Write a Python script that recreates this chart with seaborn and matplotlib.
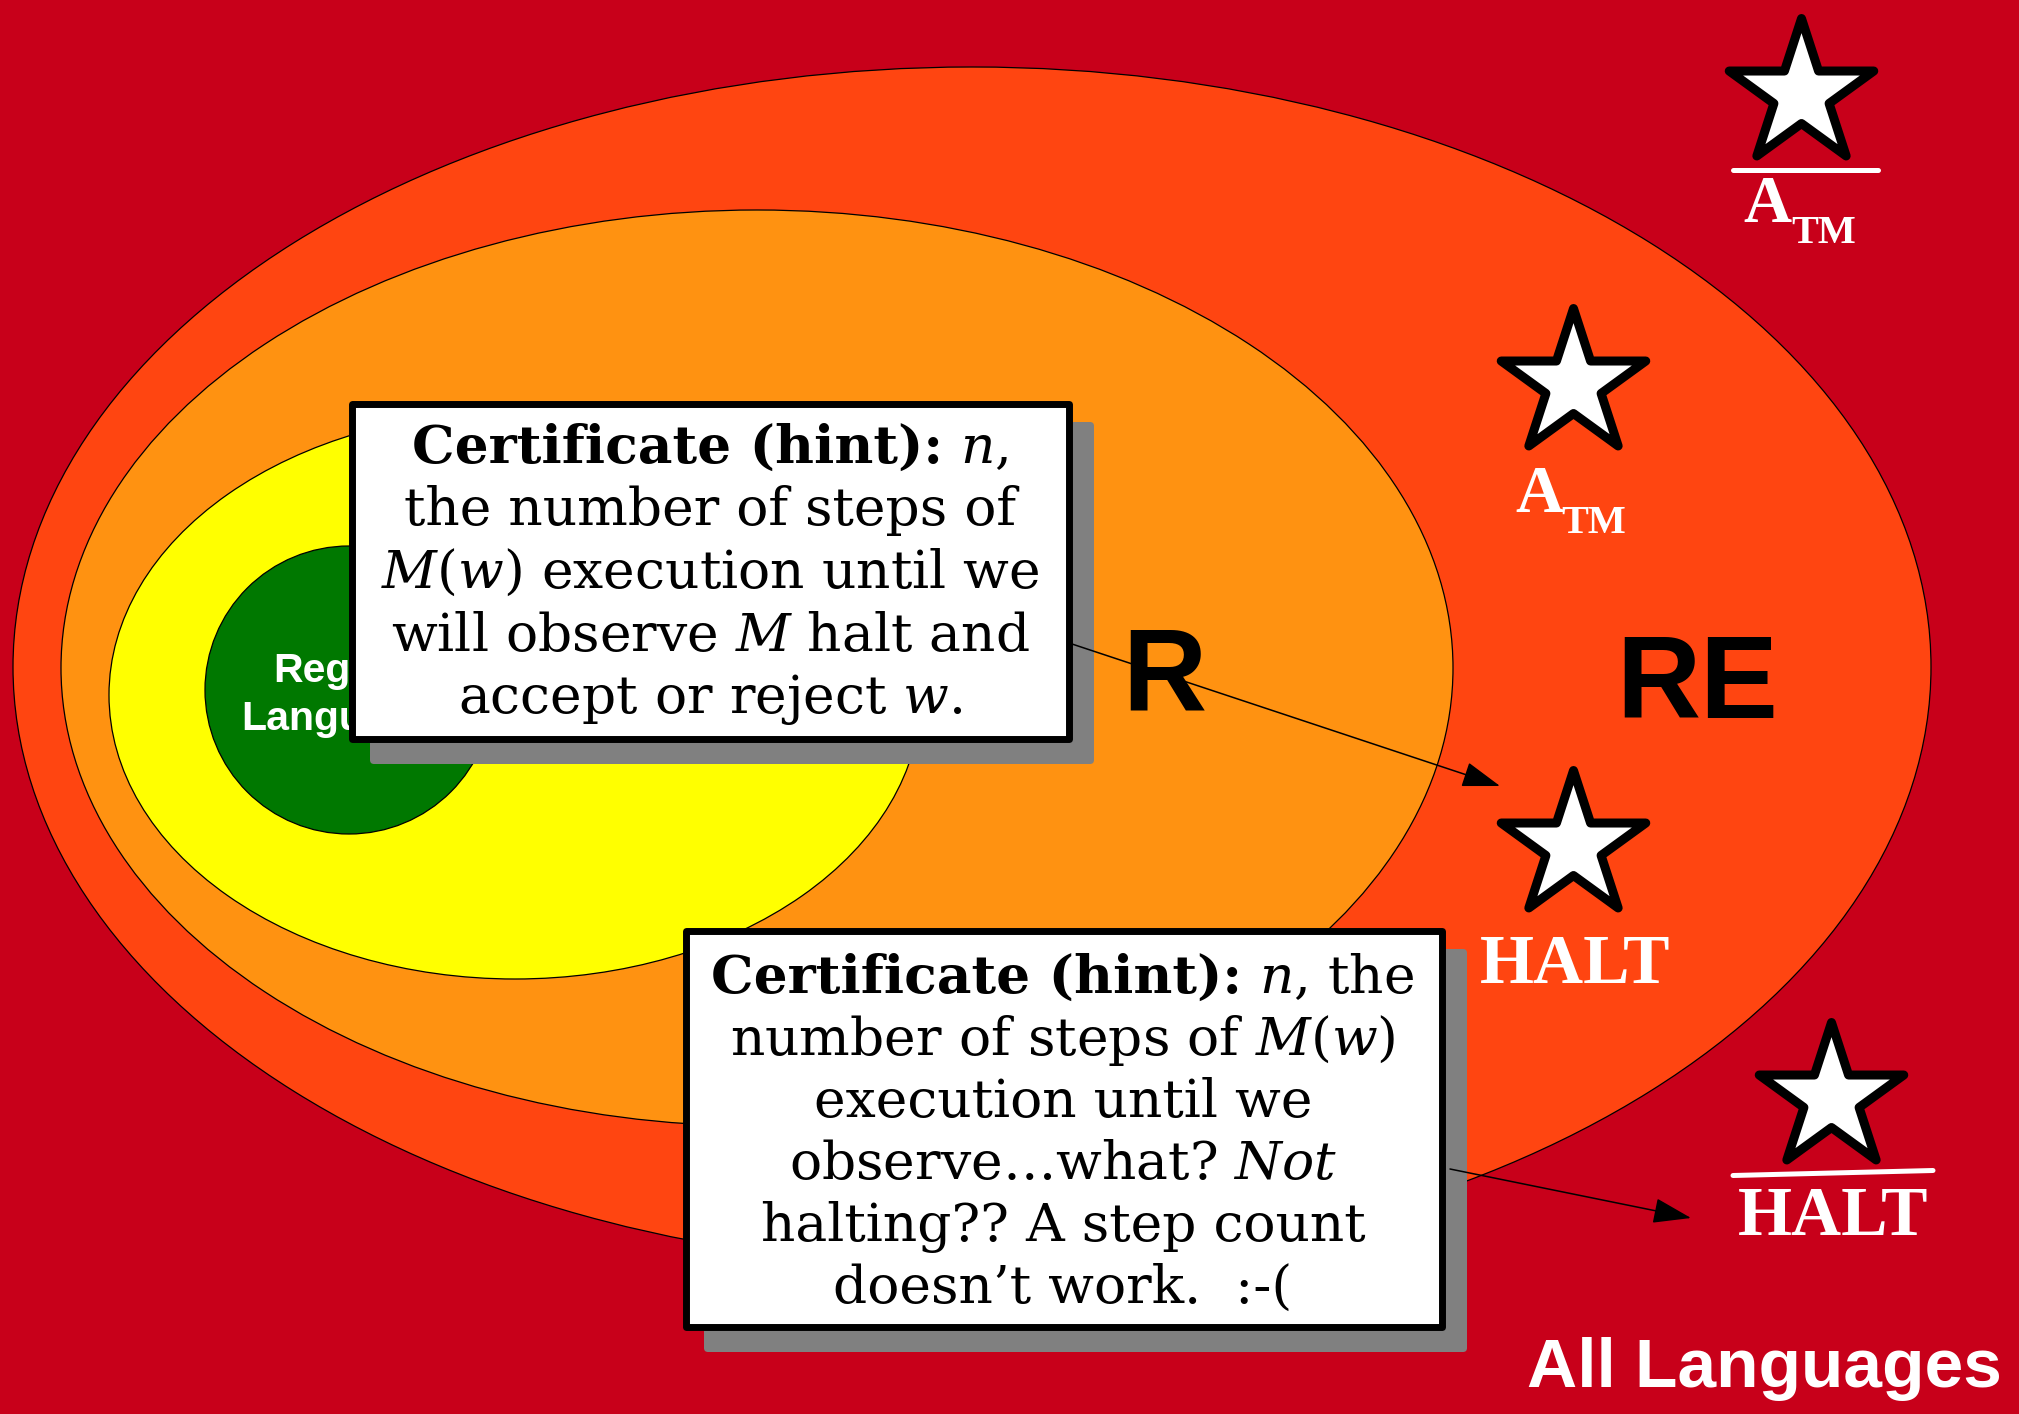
import numpy as np
import pandas as pd
import matplotlib.pyplot as plt
import seaborn as sns
from matplotlib.patches import Ellipse, Rectangle, FancyBboxPatch

sns.set_theme(style="white")
plt.rcParams["mathtext.fontset"] = "dejavuserif"

W, H = 2019, 1414
bg_color = "#C8001A"

# Regiones del diagrama (de fuera hacia dentro)
region_names = ["RE", "R", "CFL", "Regular"]
region_colors = ["#FF4511", "#FF9211", "#FFFF00", "#007800"]
region_cx = [972, 757, 515, 349]
region_cy = [667, 668, 695, 690]
region_w = [1918, 1392, 812, 288]
region_h = [1200, 916, 568, 288]

# Estrellas (lenguajes concretos)
star_names = ["co-A_TM", "A_TM", "HALT", "co-HALT"]
star_x = [1801, 1573, 1573, 1831]
star_y = [94, 384, 846, 1098]

# Textos de los recuadros (la primera línea va en dos partes: negrita + resto)
hint_bold = "Certificate (hint):"
box1_first = " $n$,"
box1_lines = [
    "the number of steps of",
    r"$M(w)$ execution until we",
    r"will observe $M$ halt and",
    r"accept or reject $w$.",
]
box2_first = " $n$, the"
box2_lines = [
    r"number of steps of $M(w)$",
    "execution until we",
    r"observe…what? $\mathit{Not}$",
    "halting?? A step count",
    "doesn’t work.  :-(",
]

fig = plt.figure(figsize=(W / 100, H / 100), dpi=100, facecolor=bg_color)
ax = fig.add_axes([0, 0, 1, 1])
ax.set_facecolor(bg_color)
ax.set_xlim(0, W)
ax.set_ylim(H, 0)

## Elipses
for i in range(len(region_names)):
    ax.add_patch(Ellipse((region_cx[i], region_cy[i]), region_w[i], region_h[i],
                         facecolor=region_colors[i], edgecolor="black", lw=0.9, zorder=1 + i))

sans = "Liberation Sans"
serif_b = "Liberation Serif"

ax.text(349, 682, "Regular", color="white", fontsize=29.5, fontweight="bold",
        family=sans, ha="center", va="baseline", zorder=6)
ax.text(349, 730, "Languages", color="white", fontsize=29.5, fontweight="bold",
        family=sans, ha="center", va="baseline", zorder=6)
ax.text(1164, 711, "R", color="black", fontsize=84, fontweight="bold",
        family=sans, ha="center", va="baseline", zorder=6)
ax.text(1697, 718, "RE", color="black", fontsize=84, fontweight="bold",
        family=sans, ha="center", va="baseline", zorder=6)
ax.text(2002, 1387, "All Languages", color="white", fontsize=50, fontweight="bold",
        family=sans, ha="right", va="baseline", zorder=6)

## Estrellas
df_stars = pd.DataFrame({"x": star_x, "y": star_y, "name": star_names})
sns.scatterplot(data=df_stars, x="x", y="y", marker="*", s=11970, color="white",
                edgecolor="black", linewidth=6.5, legend=False, ax=ax, zorder=7,
                joinstyle="round")

## Etiquetas de las estrellas
ax.text(1743, 222, "A", color="white", fontsize=48, fontweight="bold", family=serif_b,
        ha="left", va="baseline", zorder=7)
ax.text(1791, 243, "TM", color="white", fontsize=29, fontweight="bold", family=serif_b,
        ha="left", va="baseline", zorder=7)
ax.plot([1733, 1878], [169.5, 169.5], color="white", lw=3.6, zorder=7)

ax.text(1515, 512, "A", color="white", fontsize=48, fontweight="bold", family=serif_b,
        ha="left", va="baseline", zorder=7)
ax.text(1561, 533, "TM", color="white", fontsize=29, fontweight="bold", family=serif_b,
        ha="left", va="baseline", zorder=7)

ax.text(1575, 983, "HALT", color="white", fontsize=50, fontweight="bold", family=serif_b,
        ha="center", va="baseline", zorder=7)
ax.text(1833, 1235, "HALT", color="white", fontsize=50, fontweight="bold", family=serif_b,
        ha="center", va="baseline", zorder=7)
ax.plot([1733, 1933], [1175.5, 1170.5], color="white", lw=3.6, zorder=7)

## Sombras y recuadros
for (x0, y0, x1, y1) in [(348, 400, 1072, 742), (682, 927, 1445, 1330)]:
    ax.add_patch(FancyBboxPatch((x0 + 22, y0 + 22), x1 - x0, y1 - y0,
                                boxstyle="round,pad=0,rounding_size=4",
                                facecolor="#808080", edgecolor="none", zorder=8))
    ax.add_patch(Rectangle((x0 + 3.5, y0 + 3.5), x1 - x0 - 7, y1 - y0 - 7,
                           facecolor="white", edgecolor="black", lw=5,
                           joinstyle="round", zorder=10))

## Flechas
arrow_style = dict(arrowstyle="-|>,head_length=2.4,head_width=0.8", mutation_scale=10,
                   color="black", lw=1.1, shrinkA=0, shrinkB=0)
ax.annotate("", xy=(1500, 786), xytext=(1072, 644), arrowprops=arrow_style, zorder=9)
ax.annotate("", xy=(1691, 1218), xytext=(1450, 1169), arrowprops=arrow_style, zorder=9)

## Texto de los recuadros
renderer = fig.canvas.get_renderer()


def first_line(cx, y, rest):
    # "Certificate (hint):" en negrita seguido del resto, todo centrado
    t1 = ax.text(0, y, hint_bold, fontsize=38.5, family="DejaVu Serif", fontweight="bold",
                 color="black", ha="left", va="baseline", zorder=11)
    t2 = ax.text(0, y, rest, fontsize=38.5, family="DejaVu Serif",
                 color="black", ha="left", va="baseline", zorder=11)
    w1 = t1.get_window_extent(renderer).width
    w2 = t2.get_window_extent(renderer).width
    x = cx - (w1 + w2) / 2
    t1.set_x(x)
    t2.set_x(x + w1)


first_line(710, 463, box1_first)
for i, line in enumerate(box1_lines):
    ax.text(710, 463 + 62.5 * (i + 1), line, fontsize=38.5, family="DejaVu Serif",
            color="black", ha="center", va="baseline", zorder=11)

first_line(1063, 993, box2_first)
for i, line in enumerate(box2_lines):
    ax.text(1063, 993 + 62 * (i + 1), line, fontsize=38.5, family="DejaVu Serif",
            color="black", ha="center", va="baseline", zorder=11)

ax.axis("off")

plt.savefig("out.png", dpi=100, facecolor=bg_color)
